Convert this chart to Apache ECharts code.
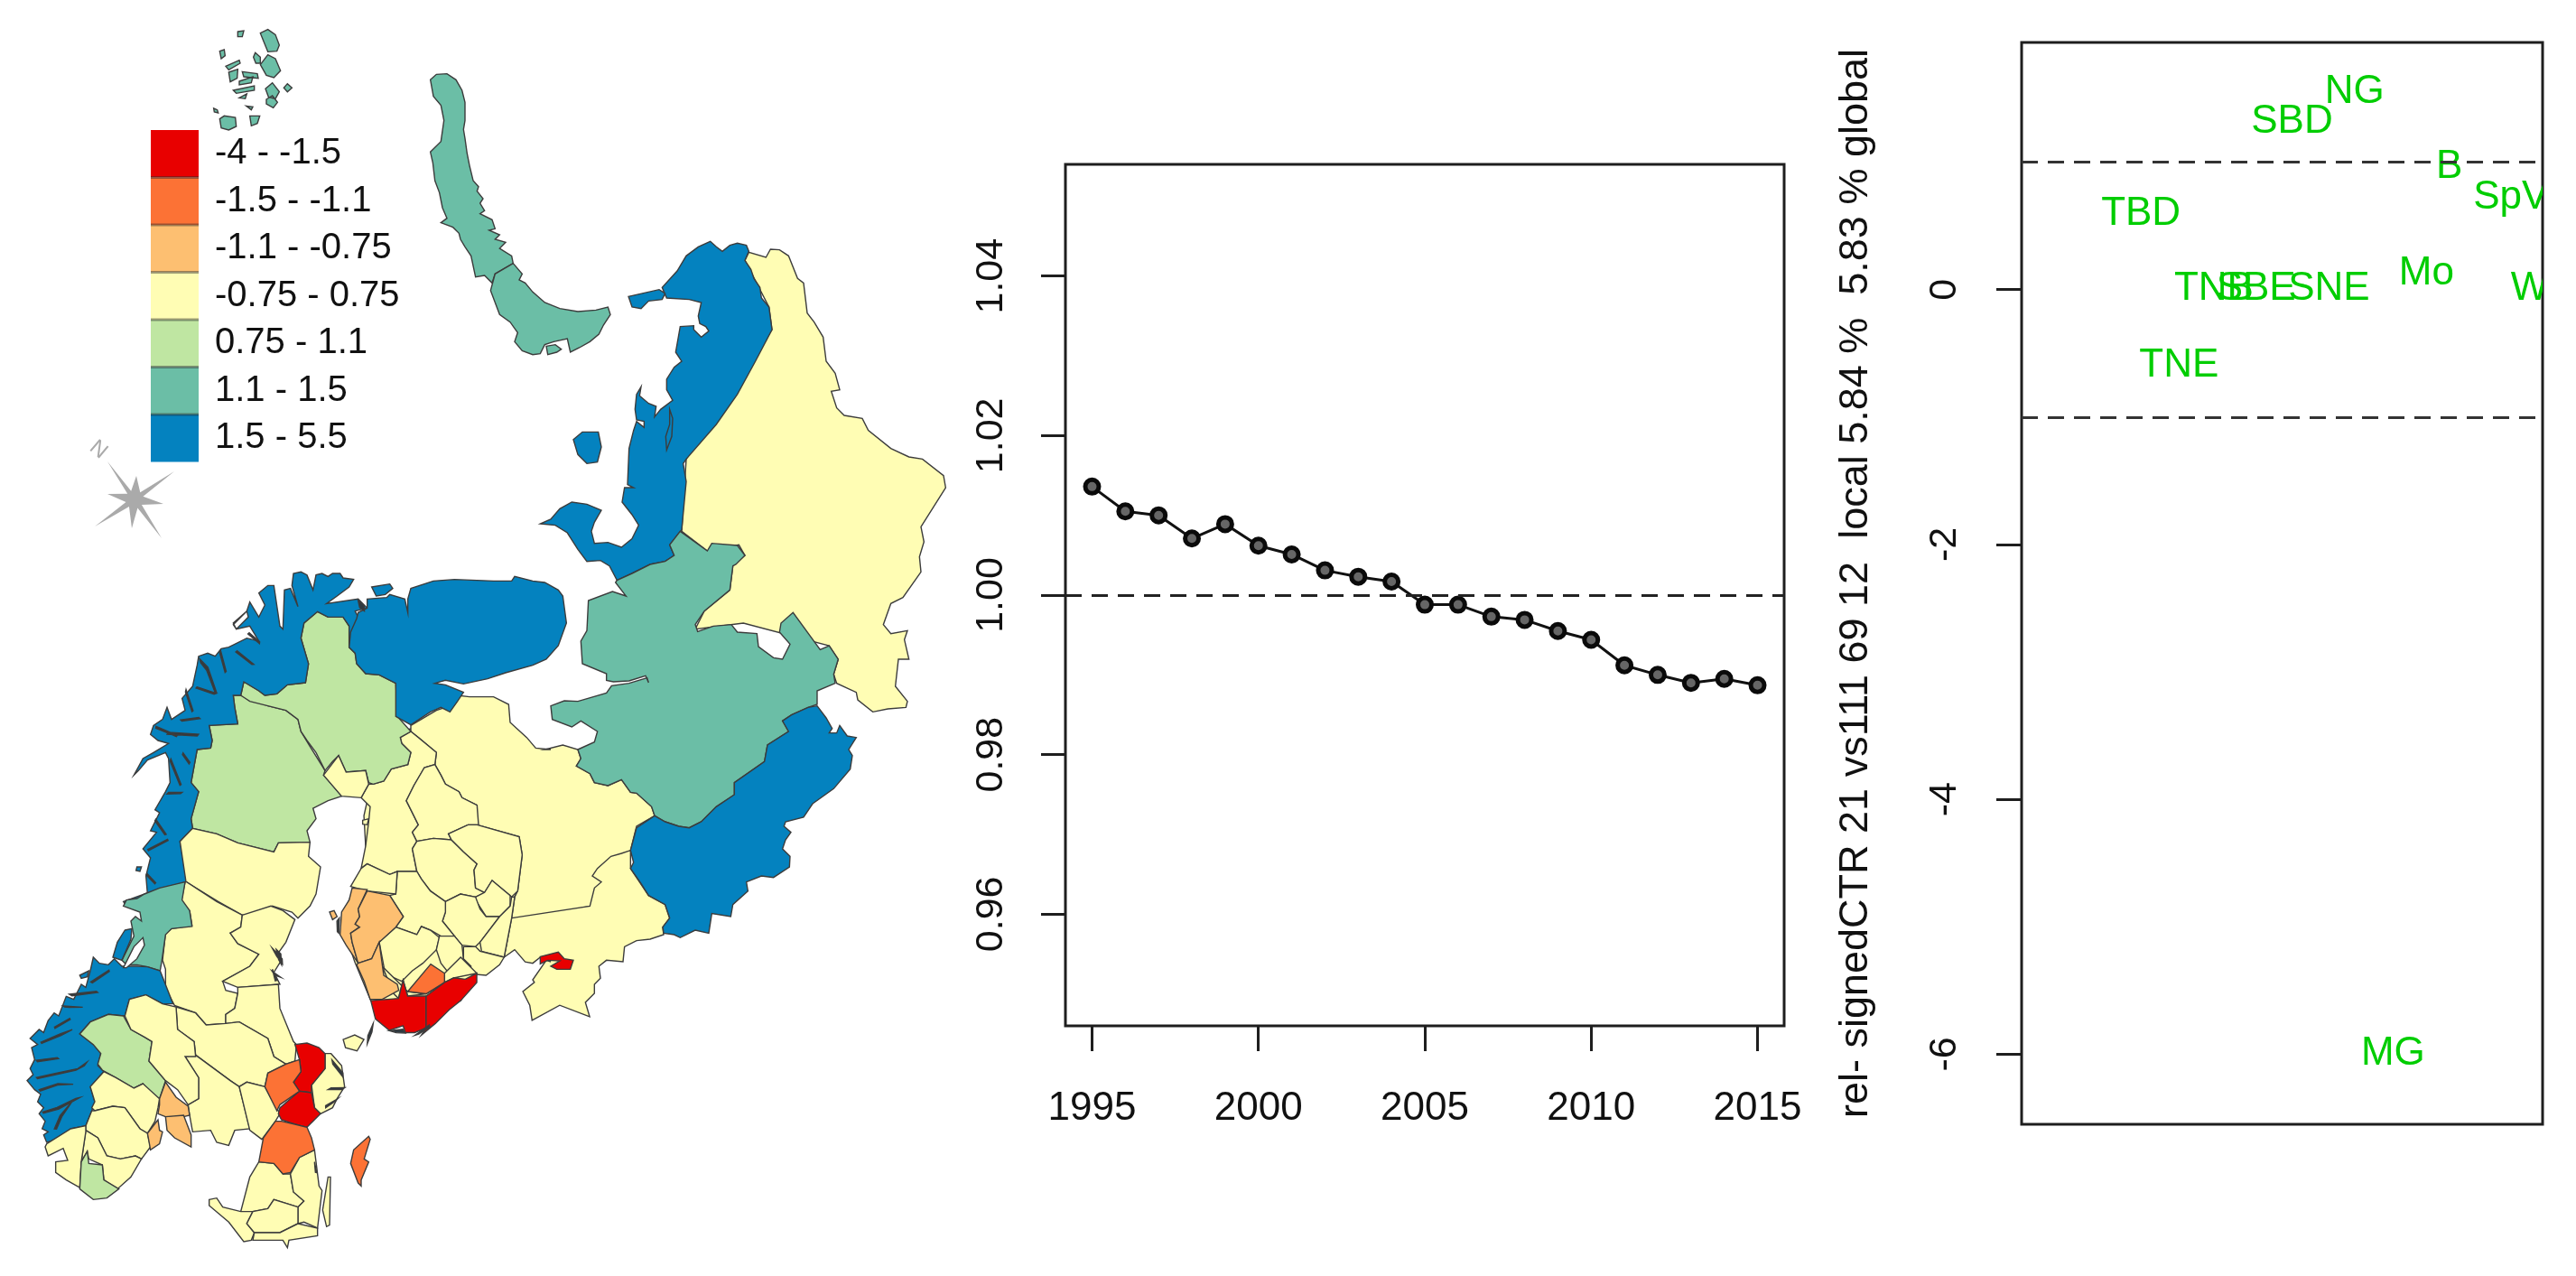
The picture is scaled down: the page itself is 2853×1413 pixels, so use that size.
<!DOCTYPE html>
<html><head><meta charset="utf-8">
<style>html,body{margin:0;padding:0;background:#fff}#main{width:2853px;height:1413px;filter:blur(.7px)}</style>
<script src="https://cdn.jsdelivr.net/npm/echarts@6/dist/echarts.min.js"></script>
</head><body><div id="main"></div>
<script>
// ---------- time-series panel ----------
const years=[1995,1996,1997,1998,1999,2000,2001,2002,2003,2004,2005,2006,2007,2008,2009,2010,2011,2012,2013,2014,2015];
const ratio=[1.0136,1.0105,1.0100,1.0071,1.0089,1.0062,1.0051,1.0031,1.0023,1.0017,0.9988,0.9988,0.9973,0.9969,0.9955,0.9944,0.9912,0.9900,0.9890,0.9895,0.9887];
const yearTicks=[1995,2000,2005,2010,2015];
const ratioTicks=[0.96,0.98,1.00,1.02,1.04];
// ---------- labelled scatter panel ----------
const codes=['NG','SBD','B','SpV','TBD','TNB','SBE','SNE','Mo','W','TNE','MG'];
const codeX=[0.639,0.519,0.821,0.939,0.229,0.369,0.450,0.590,0.777,0.975,0.302,0.713];
const codeY=[1.59,1.355,1.0,0.755,0.63,0.04,0.04,0.04,0.165,0.04,-0.56,-5.96];
const signedTicks=[-6,-4,-2,0];
const yTitle='rel- signedCTR 21 vs111 69 12  local 5.84 %  5.83 % global';
// ---------- legend ----------
const classLabels=['-4 - -1.5','-1.5 - -1.1','-1.1 - -0.75','-0.75 - 0.75','0.75 - 1.1','1.1 - 1.5','1.5 - 5.5'];
const classBreaks=[-4,-1.5,-1.1,-0.75,0.75,1.1,1.5,5.5];
const classColors=['#E80000','#FC7235','#FDBF71','#FFFDB4','#BFE6A2','#6BBEA6','#0482BF'];
const C2={ox:0,oy:620,sx:1.96,sy:1.977},C7={ox:220,oy:20,sx:3,sy:3},C8={ox:590,oy:250,sx:3,sy:3},
      C9={ox:590,oy:640,sx:3,sy:3},C10={ox:130,oy:620,sx:3,sy:3},C11={ox:20,oy:940,sx:3,sy:3};
const finEast=[1285,1320,1310,1190,1320,1120,1330,1100,1345,980,1335,920,1195,880,1195,815,1145,790,1135,770,1090,745,1075,715,1055,680,1060,640,1000,590,975,570];
const regions=[
 // yellow bases
 ['komi',0,[[C8,[705,115,718,88,775,105,790,78,820,80,850,100,880,175,900,190,912,290,935,320,965,370,975,450,1005,490,1020,545,992,550,1010,605,1035,630,1095,640,1115,680,1190,740,1250,768,1295,775,1365,830,1372,870,1290,1000,1300,1050,1285,1100,1290,1150,1230,1235,1190,1255,1165,1325,1190,1355,1245,1345,1235,1375,1250,1440],C9,[1215,270,1205,360,1245,410,1240,430,1180,435,1130,445,1080,405,1075,380,1010,350,1000,320,1015,270,985,225,700,150,540,170],C8,[570,1280,655,1210,665,1130,705,1095,685,1060,580,1080,495,1015,510,775,795,345,785,270]]]],
 ['finbase',0,[[C10,finEast,C2,[945,420,890,370,870,400,800,515,790,560,795,650,770,715,740,790,770,880,805,965,900,1000,1000,965,1035,905]]]],
 ['karelia',0,[[C10,[975,550,1060,500,1120,480,1130,450,1170,455,1250,455,1300,480,1305,540,1360,590,1390,625,1440,630],C9,[40,570,100,555,150,570,160,600,145,625,190,650,205,680,250,690,295,670,325,712,345,715,395,760,405,790,345,825,325,905,190,1090,0,1130],C10,finEast.slice(2)]]],
 ['leningrad',0,[[C10,[1310,1190],C9,[190,1090,205,1030,228,1010,198,990,215,965,260,925,295,915,325,905,325,965,385,1055,440,1085,455,1130,432,1160,435,1185,390,1200,345,1205,305,1225,300,1275,245,1270,220,1290,225,1330,205,1350,205,1380,175,1410],C2,[1280,1000,1215,975,1155,1008,1150,975,1135,945,1160,925],C9,[0,1335,45,1270,60,1275,25,1260,0,1280],C2,[1140,880],C10,[1320,1295,1285,1320]]]],
 // Finland
 ['oulu',0,[[C10,[975,570,1000,590,1060,640,1055,680,1020,690,985,750,960,800,975,830,1000,880,980,905,995,935,980,960,995,1035,930,1035,905,1045,830,1010,810,1025,825,950,835,870,840,820,810,790,835,745,850,745,885,735,910,695,965,680,975,640,945,610,940,590]]]],
 ['kainuu',0,[[C10,[1055,680,1075,715,1090,745,1135,770,1145,790,1195,815,1200,880,1165,880,1100,910,1110,930,1050,925,995,935,980,905,1000,880,975,830,960,800,985,750,1020,690]]]],
 ['psavo',0,[[C10,[995,935,1050,925,1110,930,1150,970,1195,1010,1185,1030,1190,1090,1220,1105,1190,1120,1140,1110,1090,1135,1040,1100,1010,1060,995,1035,980,960]]]],
 ['pkarelia',0,[[C10,[1100,910,1165,880,1195,880,1335,920,1345,980,1330,1100,1310,1120,1245,1065,1220,1105,1190,1090,1185,1030,1195,1010,1150,970,1110,930]]]],
 ['esavo',0,[[C10,[1190,1120,1220,1105,1245,1065,1305,1115,1305,1150,1270,1185,1225,1185,1190,1130]]]],
 ['mikkeli',0,[[C10,[1090,1135,1140,1110,1190,1120,1205,1160,1225,1185,1270,1185,1205,1270,1190,1285,1145,1280,1120,1250,1080,1200,1090,1170]]]],
 ['ekarelia',0,[[C10,[1270,1185,1305,1150,1310,1120,1320,1120,1310,1190,1285,1320,1210,1300,1205,1270]]]],
 ['ksuomi',0,[[C10,[930,1035,995,1035,1010,1060,1040,1100,1090,1135,1090,1170,1080,1200,1120,1250,1075,1250,1040,1230,1010,1218,995,1245,925,1220,950,1185,905,1115,925,1110]]]],
 ['kpohj',0,[[C10,[810,1025,830,1010,905,1045,930,1035,925,1110,830,1100,775,1085]]]],
 ['pirkan',0,[[C10,[870,1270,925,1220,995,1245,1010,1218,1040,1230,1070,1255,1060,1295,1015,1340,980,1365,945,1400,890,1375]]]],
 ['paijat',0,[[C10,[1070,1250,1120,1250,1145,1280,1150,1325,1175,1350,1165,1375,1115,1390,1075,1340,1060,1295]]]],
 ['kymen',0,[[C10,[1150,1285,1190,1285,1205,1300,1285,1320,1270,1345,1225,1380,1170,1375,1175,1350,1150,1325]]]],
 ['kanta',0,[[C2,[830,890,885,945,925,950,965,905,1000,870,1035,905,985,915,965,925,925,950,885,955,875,920,865,960,855,950]]]],
 ['aland',0,[[C2,[745,1050,770,1040,790,1050,775,1075,750,1068]],[C10,[815,865,835,860,830,880,815,878]]]],
 // orange Finland
 ['pohj',-0.9,[[C10,[780,1090,830,1095,800,1160,805,1185,790,1210,805,1220,775,1240,780,1270,800,1340,760,1280,740,1245,745,1170,770,1130]],[C10,[705,1170,720,1165,730,1185,715,1195]]]],
 ['epohj',-0.9,[[C10,[830,1100,905,1115,950,1185,925,1220,870,1270,845,1325,800,1340,780,1270,775,1240,805,1220,790,1210,805,1185,800,1160]]]],
 ['satak',-0.9,[[C11,[1130,380,1175,365,1200,310,1215,420,1260,450,1265,470,1210,500,1170,500,1150,440,1125,385]]]],
 ['uusi',-1.3,[[C2,[885,945,935,885,965,905,965,925,925,950]]]],
 ['varsW',-2,[[C2,[805,965,865,960,875,920,885,955,925,955,925,1025,900,1035,880,1035,875,1020,845,1030,815,1005]]]],
 ['varsE',-2,[[C2,[925,955,965,925,985,915,1010,918,1035,905,1035,925,1000,965,975,985,945,1015,915,1040,925,1025]]]],
 ['spb',-2,[[C9,[25,1258,85,1243,105,1265,135,1270,125,1300,80,1300,60,1290,90,1272,50,1270,25,1282]]]],
 // Sweden & Norway, north
 ['nsweden',0.9,[[C10,[385,450,410,450,500,485,560,500,600,530,610,570,640,620,690,700,685,715,745,785,700,800,650,825,660,860,630,900,640,938,535,940,520,970,400,940,330,910,250,892,245,860,270,770,245,740,265,630,310,625,315,600,305,550,400,545,390,490]]]],
 ['lapland',0.9,[[C10,[665,172,700,190,750,190,770,220,770,290,790,310,795,345,825,378,870,382,925,410,930,520,975,570,940,590,945,610,975,640,965,680,910,695,885,735,850,745,835,740,825,700,760,705,735,650,715,670,690,700,660,640,630,600,610,570,600,530,560,500,500,485,440,470,410,450,420,405,470,435,490,450,530,445,565,415,625,408,635,345,610,260,620,210]]]],
 ['torne',0,[[C10,[685,715,735,650,760,705,825,700,835,745,810,790,745,785]]]],
 ['nnorway',2,[[C10,[228,1070,228,1040,208,935,250,892,245,860,270,770,245,740,265,630,310,625,315,600,305,550,400,545,390,490,385,450,410,450,420,405,470,435,490,450,530,445,565,415,625,408,635,345,610,260,620,210,665,172,700,190,750,190,770,220,770,290,790,310,780,240,800,190,790,170,830,160,800,130,695,145,730,120,770,90,785,65,750,60,740,45,715,45,700,55,680,45,660,50,650,100,630,50,610,40,585,45,580,85,600,155,575,95,555,100,550,230,540,220,520,85,500,85,470,110,490,150,470,190,440,140,430,170,385,210,395,230,440,220,470,270,430,260,390,280,370,290,345,295,325,320,300,310,270,320,265,350,250,420,215,460,225,500,180,530,165,490,150,530,120,550,110,580,135,600,170,610,120,640,85,660,55,715,70,700,100,665,160,640,170,660,175,740,160,770,125,830,140,840,110,900,130,905,85,960,110,990,95,1050,100,1110,150,1090]],[C10,[385,215,430,170,435,190,395,230]],[C10,[65,1020,80,1020,75,1035,62,1032]],[C10,[20,1135,90,1110,60,1140,30,1150]]]],
 ['kola',2,[[C10,[925,410,925,520,975,548,1040,505,1075,490,1105,505,1130,470,1150,440,1090,415,1055,410,1090,400,1150,412,1230,395,1290,375,1380,350,1425,330,1465,285,1492,210,1480,120,1465,100,1420,75,1380,70,1320,55,1310,70,1250,70,1120,65,1050,70,975,95,965,130,965,175,955,130,905,115,895,125,830,130,830,160,800,175,795,195,775,240,770,290,790,310,795,345,825,378,870,382]],[C10,[845,90,905,80,915,95,890,115,860,120]]]],
 // Sweden, central & south
 ['vbotten',0,[[C10,[208,935,250,892,330,910,400,940,520,970,535,940,640,938,635,985,675,1020,660,1110,640,1150,600,1190,580,1170,515,1150,480,1170,415,1180,335,1135,228,1070]]]],
 ['jamt',0,[[C11,[560,110,660,175,745,220,740,260,705,280,730,315,800,350,770,390,680,440,690,470,730,480,720,530,690,550,690,580,625,585,590,545,520,520,490,465,490,400,480,370,490,280,510,265,578,255,570,205,540,185,555,110]]]],
 ['vnorr',0,[[C11,[745,220,840,190,880,205,920,235,890,310,865,345,875,370,850,410,870,450,730,460,680,440,770,390,800,350,730,315,705,280,740,260]]]],
 ['gavle',0,[[C11,[730,460,865,450,870,530,915,640,925,650,920,705,890,715,850,690,830,630,735,575,690,580,690,550,720,530,730,480]]]],
 ['dala',0,[[C11,[525,525,590,545,625,585,690,580,735,575,830,630,850,690,890,715,830,745,820,790,760,775,735,790,705,770,590,685,585,640,530,600]]]],
 ['varm',0,[[C11,[555,690,590,685,705,770,735,790,770,930,720,935,700,985,660,975,640,935,580,940,570,885,565,850,600,830,600,760]]]],
 ['skara',0,[[C11,[735,790,760,775,820,790,870,880,855,905,810,965,770,935]]]],
 ['stock',0,[[C11,[975,785,1020,730,1020,680,1040,680,1075,720,1085,790,1060,830,1045,860,1005,880,985,860]]]],
 ['smaW',0,[[C11,[800,1040,850,1045,880,1080,905,1080,915,1140,950,1170,930,1190,850,1165,830,1195,780,1205,740,1205,770,1090]]]],
 ['smaE',0,[[C11,[905,1080,935,1025,985,1000,1000,1120,1010,1135,995,1260,950,1240,930,1245,930,1190,950,1170,915,1140]]]],
 ['skane',0,[[C11,[635,1165,660,1160,680,1190,740,1205,780,1205,760,1245,785,1275,775,1300,750,1305,700,1240,635,1185]]]],
 ['blek',0,[[C11,[760,1245,780,1205,830,1195,850,1165,930,1190,930,1245,870,1275,785,1275]]]],
 ['botS',0,[[C11,[785,1275,870,1275,930,1245,995,1260,995,1285,900,1300,895,1325,880,1300,780,1300]],[C11,[1030,1090,1038,1090,1035,1250,1025,1255,1012,1200]]]],
 ['redN',-2,[[C11,[920,650,960,645,1000,660,1020,680,1020,730,975,785,975,810,935,805,915,775,940,740,935,700]]]],
 ['redS',-2,[[C11,[870,860,935,805,975,810,985,860,1005,880,960,925,920,915,875,900,865,880]]]],
 ['orW',-1.3,[[C11,[830,745,890,715,935,700,940,740,915,775,935,805,870,850,860,870,820,790]]]],
 ['orS',-1.3,[[C11,[875,905,920,915,960,925,975,960,985,1000,935,1025,905,1075,880,1080,850,1045,800,1040,815,960,855,905]]]],
 ['gotland',-1.3,[[C11,[1165,955,1170,965,1150,1030,1165,1040,1140,1100,1140,1120,1130,1110,1105,1045,1115,1000]]]],
 // Norway, south
 ['teal',1.3,[[C11,[555,110,545,170,570,205,578,258,510,265,490,285,478,370,472,405,430,392,395,385,360,385,345,370,385,290,375,240,390,225,410,240,405,210,350,190,360,170,395,165,420,150,470,130]]]],
 ['blueNT',2,[[C11,[355,270,378,265,375,300,345,370,315,360,330,310]]]],
 ['swnorway',2,[[C11,[472,405,515,515,480,515,425,485,370,500,355,555,350,555,300,550,240,575,205,615,250,650,275,680,265,720,285,740,240,790,255,840,245,870,225,920,175,930,130,965,95,975,85,950,100,940,80,930,90,905,70,880,85,860,65,840,75,815,55,800,30,770,50,750,40,730,55,700,45,660,65,650,40,630,70,600,85,610,100,570,120,545,135,555,160,490,185,500,210,450,225,460,240,405,250,360,270,380,300,385,320,365,345,390,395,390,430,392]],[C11,[205,420,235,405,230,425,210,430]]]],
 ['opland',0.9,[[C11,[205,615,240,575,300,550,350,555,375,600,420,625,445,640,435,705,490,770,470,830,445,820,415,780,385,795,325,760,280,735,265,715,275,680,250,650]]]],
 ['hedmark',0,[[C11,[355,555,370,500,425,485,480,515,525,525,530,600,585,640,590,690,555,690,600,760,600,830,565,850,530,800,490,770,435,705,445,640,420,625,375,600]]]],
 ['busk',0,[[C11,[285,740,325,760,385,795,415,780,470,830,465,860,455,905,430,945,405,930,355,860,315,855,255,870,245,860,255,840,240,790]]]],
 ['telem',0,[[C11,[255,870,315,855,355,860,405,930,430,945,440,990,410,1030,390,1020,340,1030,295,1020,265,960,225,935,225,920,245,870]]]],
 ['agder',0,[[C11,[225,935,265,960,295,1020,340,1030,390,1020,410,1030,375,1090,330,1130,285,1100,280,1050,235,1030,230,1005,210,1040]]]],
 ['roga',0,[[C11,[95,980,175,930,225,920,225,940,210,1040,205,1125,160,1100,125,1075,125,1040,165,1035,150,995,100,1020,90,990]]]],
 ['vagder',0.9,[[C11,[230,1005,235,1045,280,1050,285,1100,335,1130,295,1160,250,1165,205,1130,210,1040]]]],
 ['vest',-0.9,[[C11,[430,945,465,900,470,935,480,940,470,980,440,1000]]]],
 ['ost',-0.9,[[C11,[470,830,490,775,525,825,565,855,570,885,550,890,490,890,465,880,470,850]]]],
 ['ost2',-0.9,[[C11,[490,890,550,885,575,950,575,990,520,960,495,935]]]],
 // north Russia
 ['nenets',2,[[C8,[590,52,610,70,630,85,655,65,680,58,710,65,718,85,705,115,725,145,735,175,755,205,760,240,785,270,795,345,740,450,680,560,610,660,510,775,500,790,510,850,495,1010,455,1060,470,1095,440,1115,390,1125,330,1155,280,1178,255,1130,225,1112,180,1115,150,1075,115,1020,75,995,25,990,60,975,90,940,130,918,180,925,228,945,205,985,195,1015,205,1055,250,1052,295,1068,330,1040,352,995,330,960,297,918,305,870,335,870,315,860,320,740,335,680,345,650,370,670,370,650,345,645,340,610,345,560,360,535,355,565,385,590,410,600,405,635,425,610,465,580,445,545,445,510,470,470,495,450,475,420,490,335,535,332,535,345,560,370,585,350,575,335,555,325,550,300,560,255,520,245,445,240,430,205,480,150,510,100,550,70]],[C8,[135,710,165,685,218,685,228,735,215,785,180,790,150,760]],[C8,[318,235,420,212,440,225,430,245,385,250,360,275,330,270]],[C8,[455,610,465,640,462,700,445,745,442,700,455,660]]]],
 ['tealE',1.3,[[C9,[490,-155,580,-90,595,-115,680,-108,705,-75,675,-45,665,-40,655,40,570,110,540,155,548,178,600,160,660,155,680,180,745,185,750,228,800,265,830,270,855,220,820,180,825,150,865,115,955,238,985,225,1015,270,1000,320,1005,350,945,375,945,420,915,430,860,455,830,475,850,510,780,555,770,610,670,680,670,720,610,760,560,810,520,830,485,825,440,810,405,790,395,760,345,715,325,712,295,670,250,690,205,680,190,650,145,625,160,600,150,570,205,545,215,510,160,475,130,495,65,470,60,425,105,408,150,410,245,382,262,358,320,350,380,332,385,348,375,325,320,342,268,345,245,340,245,318,165,285,160,210,180,175,185,75,265,45,310,60,275,15,280,8,330,-15,390,-45,440,-55,470,-75,455,-110]]]],
 ['blueE',2,[[C9,[915,430,945,425,975,465,995,500,985,515,1010,515,1020,490,1045,525,1075,530,1050,570,1062,590,1055,635,1000,700,930,750,900,795,840,810,835,825,858,845,840,870,830,900,855,925,853,960,800,995,760,990,710,1010,715,1040,665,1085,658,1125,595,1115,585,1180,540,1170,490,1195,470,1185,435,1180,432,1160,455,1130,440,1085,385,1055,360,1015,325,965,335,945,325,905,345,830,405,790,440,810,485,825,520,830,560,810,610,760,670,720,670,680,770,610,780,555,850,510,830,475,860,455]]]],
 // arctic islands
 ['nzN',1.3,[[C7,[770,205,790,187,825,185,855,205,875,240,885,280,885,340,880,370,885,400,892,450,900,490,912,540,930,560,925,575,945,600,935,615,950,640,935,650,975,670,985,700,965,705,1000,720,985,735,1020,745,1000,765,1040,790,1045,815,985,850,975,880,950,855,920,860,905,790,885,760,870,735,865,715,845,695,805,680,825,665,810,630,800,580,785,540,778,480,770,445,805,410,815,340,805,290,780,260]]]],
 ['nzS',1.3,[[C7,[1045,815,1075,850,1065,870,1085,880,1110,910,1150,945,1200,965,1260,975,1320,970,1360,960,1368,985,1345,1020,1330,1050,1300,1075,1265,1095,1235,1110,1225,1065,1180,1075,1150,1085,1135,1115,1110,1118,1075,1105,1050,1075,1060,1045,1035,1010,1000,985,985,945,970,905,985,850]],[C7,[1155,1090,1185,1085,1205,1100,1190,1110,1160,1118]]]],
 ['franz',1.3,[[C7,[205,50,230,38,255,55,268,90,260,110,230,112,215,75]],[C7,[205,155,230,122,255,135,272,175,250,198,225,190]],[C7,[222,235,245,215,268,245,255,268,232,262]],[C7,[225,270,245,258,262,280,248,298,225,285]],[C7,[295,218,310,232,295,245,283,232]],[C7,[188,115,205,130,205,150,190,150,182,130]],[C7,[70,110,85,105,88,125,75,135]],[C7,[130,45,150,42,145,62,130,62]],[C7,[90,160,135,140,138,150,100,172]],[C7,[100,180,130,170,128,200,105,212]],[C7,[145,178,195,185,198,200,150,195]],[C7,[135,210,180,195,175,215,135,222]],[C7,[115,240,185,225,185,240,125,250]],[C7,[135,265,160,252,155,268]],[C7,[158,292,180,295,175,305]],[C7,[70,335,85,325,122,330,125,360,100,372,75,365]],[C7,[170,325,203,325,195,350,175,358]],[C7,[50,300,62,305,65,315,52,312]]]],
 // open water inside the teal county: value outside every class, so it stays white
 ['sea',99,[[C11,[350,395,385,325,415,295,420,320,395,365,360,395]]]],
 // fjords and skerries: dark hatching of the coast, carry no value
 ['fjords',null,[[C11,[60,755,130,745,200,735,225,695,220,720,195,745,130,755,65,765]],[C11,[70,800,130,770,185,790,130,780,75,812]],[C11,[80,870,130,860,190,825,205,825,140,875,85,880]],[C11,[120,930,130,880,185,840,145,890,135,935]],[C11,[60,700,130,690,135,700,65,712]],[C11,[75,640,140,610,180,600,145,625,80,650]],[C11,[120,590,170,560,175,570,125,600]],[C11,[150,520,215,525,170,530,155,528]],[C11,[170,480,260,470,265,480,180,495]],[C11,[240,440,300,400,305,410,250,450]],[C10,[270,330,315,350,330,440,320,445,300,365,270,345]],[C10,[345,300,365,370,355,375,335,310]],[C10,[400,300,455,345,445,350,390,310]],[C10,[440,240,475,270,470,280,430,250]],[C10,[265,420,330,440,320,450,260,430]],[C10,[230,430,255,500,245,505,222,440]],[C10,[130,550,200,580,195,590,125,565]],[C10,[170,570,270,575,265,590,165,585]],[C10,[210,530,270,520,275,530,215,540]],[C10,[220,640,245,670,235,680,212,650]],[C10,[180,660,215,745,205,750,170,670]],[C10,[170,770,215,770,210,780,165,782]],[C10,[130,860,165,910,155,915,120,870]],[C10,[100,960,165,925,170,935,105,970]],[C10,[100,1040,130,1070,122,1078,92,1050]],[C10,[800,135,830,145,820,170,795,165]],
   [C11,[1045,700,1085,740,1075,760,1040,720]],[C11,[1040,790,1085,790,1075,805,1030,805]],[C11,[1020,850,1060,830,1050,845,1025,865]],[C11,[855,335,885,345,875,385,860,370]],[C11,[845,405,875,425,850,425]],[C11,[985,1040,995,1075,985,1075]],[C2,[845,1030,875,1020,880,1040,860,1040]],[C2,[795,1040,810,1015,812,1035,800,1060]],[C10,[725,1200,745,1190,740,1240,728,1235]],[C10,[515,1290,555,1320,545,1345,525,1320]],[C10,[515,1360,535,1395,520,1400]],[C2,[900,1040,930,1015,935,1025,910,1040]]]]
];
const compassRays=[[119,511],[151,527],[193,522],[181,558],[179,596],[146,585],[105,583],[119,547]];
const compassCentre=[149,553];

function ring(parts){const out=[];for(let i=0;i<parts.length;i+=2){const c=parts[i],a=parts[i+1];
  for(let j=0;j<a.length;j+=2)out.push([c.ox+a[j]/c.sx,c.oy+a[j+1]/c.sy]);}
  out.push(out[0].slice());return out;}
// thin a fjord ring across its long axis so that it reads as a fine line
function thin(r,k){const n=r.length;let mx=0,my=0;r.forEach(p=>{mx+=p[0]/n;my+=p[1]/n;});
  let xx=0,yy=0,xy=0;r.forEach(p=>{const a=p[0]-mx,b=p[1]-my;xx+=a*a;yy+=b*b;xy+=a*b;});
  const t=0.5*Math.atan2(2*xy,xx-yy),c=Math.cos(t),s=Math.sin(t);
  return r.map(p=>{const a=p[0]-mx,b=p[1]-my,u=a*c+b*s,v=(-a*s+b*c)*k;return [mx+u*c-v*s,my+u*s+v*c];});}
const geoJson={type:'FeatureCollection',features:regions.map(r=>({type:'Feature',properties:{name:r[0]},
  geometry:{type:'MultiPolygon',coordinates:r[2].map(p=>[r[0]==='fjords'?thin(ring(p),0.4):ring(p)])}}))};
echarts.registerMap('nordic',geoJson);

const legendLeft=167,legendTop=144,swatchW=53,swatchH=52.5;
const star=[];compassRays.forEach((p,i)=>{const n=compassRays[(i+1)%8];star.push(p);
  const mx=(p[0]+n[0])/2-compassCentre[0],my=(p[1]+n[1])/2-compassCentre[1],l=Math.hypot(mx,my)||1;
  star.push([compassCentre[0]+mx/l*10,compassCentre[1]+my/l*10]);});

const axisC='#1e1e1e',font='"Liberation Sans",Arial,sans-serif';
const chart=echarts.init(document.getElementById('main'),null,{renderer:'canvas'});
chart.setOption({
 backgroundColor:'#fff',animation:false,
 grid:[
  {left:1180,top:182,width:796,height:954,show:true,borderColor:axisC,borderWidth:3,backgroundColor:'transparent',containLabel:false},
  {left:2239,top:47,width:577,height:1198,show:true,borderColor:axisC,borderWidth:3,backgroundColor:'transparent',containLabel:false}
 ],
 xAxis:[
  {type:'value',gridIndex:0,min:1994.2,max:2015.8,splitLine:{show:false},
   axisLine:{show:false},axisTick:{show:true,length:28,lineStyle:{color:axisC,width:3},customValues:yearTicks},
   axisLabel:{show:true,customValues:yearTicks,formatter:v=>String(v),fontFamily:font,fontSize:44,color:'#111',margin:70}},
  {type:'value',gridIndex:1,min:0,max:1,show:false,splitLine:{show:false}}
 ],
 yAxis:[
  {type:'value',gridIndex:0,min:0.946,max:1.054,splitLine:{show:false},
   axisLine:{show:false},axisTick:{show:true,length:27,lineStyle:{color:axisC,width:3},customValues:ratioTicks},
   axisLabel:{show:true,customValues:ratioTicks,formatter:v=>v.toFixed(2),rotate:90,fontFamily:font,fontSize:43,color:'#111',margin:60}},
  {type:'value',gridIndex:1,min:-6.55,max:1.94,splitLine:{show:false},
   axisLine:{show:false},axisTick:{show:true,length:28,lineStyle:{color:axisC,width:3},customValues:signedTicks},
   axisLabel:{show:true,customValues:signedTicks,formatter:v=>String(v),rotate:90,fontFamily:font,fontSize:43,color:'#111',margin:63},
   name:yTitle,nameLocation:'middle',nameRotate:90,nameGap:161,nameTextStyle:{fontFamily:font,fontSize:45,color:'#111'}}
 ],
 visualMap:{type:'piecewise',seriesIndex:0,left:legendLeft,top:legendTop,orient:'vertical',itemWidth:swatchW,itemHeight:swatchH,itemGap:0,textGap:18,itemSymbol:'rect',
  selectedMode:false,hoverLink:false,padding:0,textStyle:{fontFamily:font,fontSize:40,color:'#111'},outOfRange:{color:'#ffffff'},
  pieces:classLabels.map((l,i)=>({min:classBreaks[i],max:classBreaks[i+1],label:l,color:classColors[i]})),inverse:true},
 graphic:[
  ...classLabels.slice(1).map((_,i)=>({type:'rect',z:100,silent:true,shape:{x:legendLeft,y:legendTop+swatchH*(i+1)-1.5,width:swatchW,height:3},style:{fill:'rgba(40,40,40,.45)'}})),
  {type:'polygon',silent:true,shape:{points:star},style:{fill:'#aaaaaa'}},
  {type:'text',silent:true,x:109,y:498,rotation:-0.7,style:{text:'N',fill:'#aaaaaa',font:'24px '+font,textAlign:'center',textVerticalAlign:'middle'}}
 ],
 series:[
  {type:'map',map:'nordic',left:0,top:0,right:0,bottom:0,roam:false,silent:true,
   projection:{project:p=>p,unproject:p=>p},boundingCoords:[[0,0],[2853,1413]],aspectScale:1,
   itemStyle:{areaColor:'#2f3a42',borderColor:'#3c3c3c',borderWidth:1.4},
   label:{show:false},emphasis:{disabled:true},select:{disabled:true},
   data:regions.filter(r=>r[1]!==null).map(r=>({name:r[0],value:r[1]}))},
  {type:'line',xAxisIndex:0,yAxisIndex:0,data:years.map((y,i)=>[y,ratio[i]]),silent:true,
   symbol:'circle',symbolSize:15,lineStyle:{color:'#111',width:3},itemStyle:{color:'#666',borderColor:'#0a0a0a',borderWidth:5},
   markLine:{silent:true,symbol:'none',label:{show:false},lineStyle:{color:'#222',width:3,type:[18,11]},data:[{yAxis:1}]}},
  {type:'custom',xAxisIndex:1,yAxisIndex:1,silent:true,clip:true,
   data:codes.map((c,i)=>[codeX[i],codeY[i],c]),
   encode:{x:0,y:1},
   renderItem:(params,api)=>{
     const p=api.coord([api.value(0),api.value(1)]);const cs=params.coordSys;
     return {type:'group',clipPath:{type:'rect',shape:{x:cs.x,y:cs.y,width:cs.width,height:cs.height}},
       children:[{type:'text',x:p[0],y:p[1]+5,style:{text:codes[params.dataIndex],fill:'#00CD00',font:'44px '+font,textAlign:'center',textVerticalAlign:'middle'}}]};
   },
   markLine:{silent:true,symbol:'none',label:{show:false},lineStyle:{color:'#333',width:3,type:[18,11]},data:[{yAxis:1},{yAxis:-1}]}}
 ]
});
</script></body></html>
